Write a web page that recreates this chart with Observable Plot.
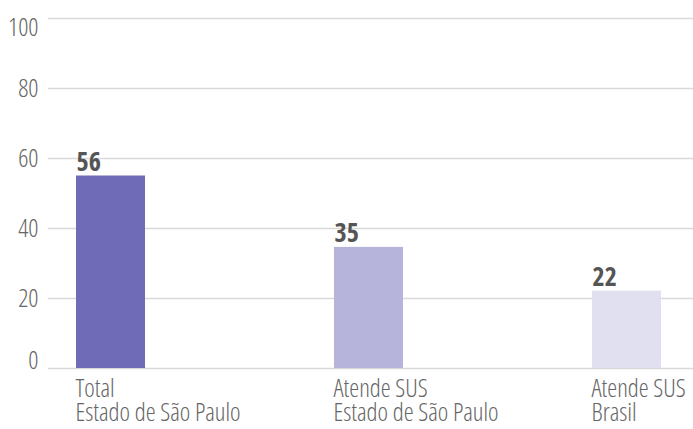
<!DOCTYPE html>
<html>
<head>
<meta charset="utf-8">
<script src="https://cdn.jsdelivr.net/npm/d3@7"></script>
<script src="https://cdn.jsdelivr.net/npm/@observablehq/plot@0.6"></script>
<style>
  html, body { margin: 0; padding: 0; background: #fff; }
  #chart svg { display: block; font-stretch: 75%; }
  #chart svg text { font-stretch: 75%; }
</style>
</head>
<body>
<div id="chart"></div>
<script>
const categories = ["Total\nEstado de São Paulo", "Atende SUS\nEstado de São Paulo", "Atende SUS\nBrasil"];
const values = [55, 34.6, 22.1];
const valueLabels = ["56", "35", "22"];
const colors = ["#6f6bb6", "#b6b4db", "#e1e0f1"];
const yTicks = [0, 20, 40, 60, 80, 100];

const data = categories.map((c, i) => ({ cat: c, value: values[i], label: valueLabels[i], color: colors[i] }));
const font = "'Open Sans', 'Roboto', sans-serif";
const bw = 69;

const chart = Plot.plot({
  width: 693,
  height: 429,
  marginTop: 18,
  marginBottom: 61,
  marginLeft: 48,
  marginRight: 0,
  style: { fontFamily: font, background: "#fff" },
  x: { domain: categories, paddingInner: 0.733, paddingOuter: 0.114, align: 0.458 },
  y: { domain: [0, 100] },
  marks: [
    Plot.gridY(yTicks, { stroke: "#d9d9d9", strokeOpacity: 1, strokeWidth: 1.5 }),
    Plot.axisY([20, 40, 60, 80], { tickSize: 0, tickPadding: 10, fontSize: 25, fill: "#666", fontWeight: 300, label: null }),
    Plot.axisY([100], { tickSize: 0, tickPadding: 10, fontSize: 25, fill: "#666", lineAnchor: "top", fontWeight: 300, label: null }),
    Plot.axisY([0], { tickSize: 0, tickPadding: 10, fontSize: 25, fill: "#666", lineAnchor: "bottom", fontWeight: 300, label: null }),
    Plot.barY(data, { x: "cat", y: "value", fill: "color" }),
    Plot.text(data, { x: "cat", y: "value", text: "label", textAnchor: "start", dx: -bw / 2, dy: -5, lineAnchor: "bottom", fontSize: 26, fontWeight: "bold", fill: "#555" }),
    Plot.axisX({ tickSize: 0, tickPadding: 12, fontSize: 25, fill: "#666", textAnchor: "start", dx: -bw / 2 - 1, lineAnchor: "top", lineHeight: 0.95, label: null, fontWeight: 300 })
  ]
});
document.getElementById("chart").appendChild(chart);
</script>
</body>
</html>
